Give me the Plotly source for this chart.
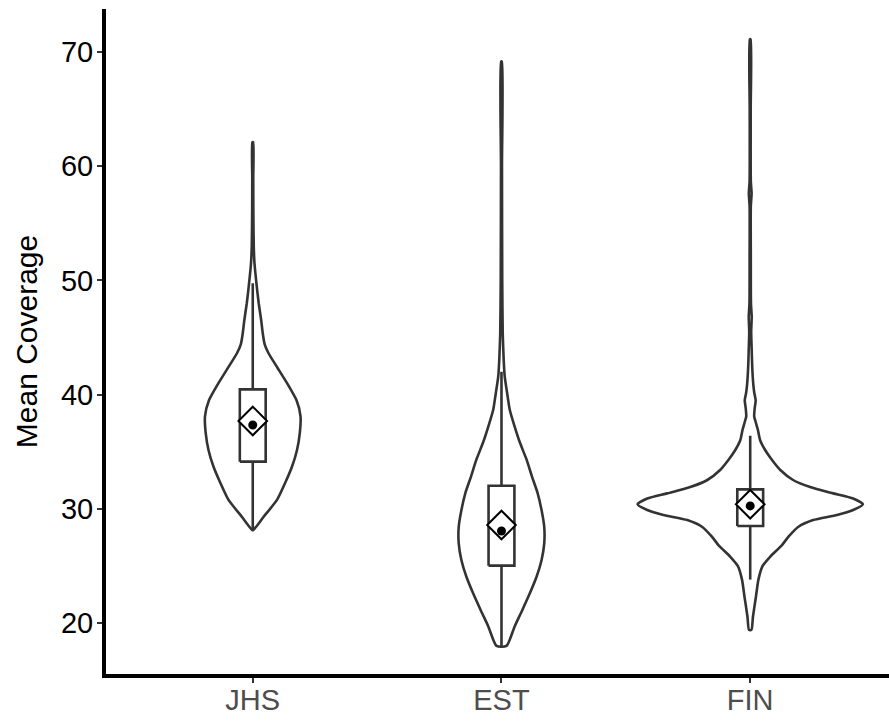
import plotly.graph_objects as go

# Groups along the x axis
groups = ["JHS", "EST", "FIN"]

# Violin outlines: coverage values and the half-width of the density at each value
jhs_y = [28.14, 28.6, 29.3, 30.8, 32.3, 33.7, 35.15, 36.6, 38.1, 39.5, 41.0, 42.4, 43.6,
         44.4, 45.4, 46.5, 48.0, 49.5, 51.5, 53.0, 56.0, 59.0, 62.1]
jhs_w = [0.002, 0.020, 0.044, 0.098, 0.131, 0.158, 0.178, 0.189, 0.192, 0.176, 0.138, 0.098, 0.064,
         0.048, 0.040, 0.034, 0.024, 0.016, 0.007, 0.004, 0.0024, 0.002, 0.0016]

est_y = [17.99, 19.7, 21.1, 22.6, 24.05, 25.5, 27.0, 28.4, 29.9, 31.4, 32.8, 34.3, 35.8,
         37.2, 38.7, 40.1, 41.6, 43.0, 45.4, 50.0, 60.0, 69.15]
est_w = [0.020, 0.053, 0.083, 0.114, 0.141, 0.161, 0.172, 0.172, 0.161, 0.145, 0.123, 0.101, 0.074,
         0.053, 0.033, 0.023, 0.013, 0.009, 0.005, 0.003, 0.002, 0.0016]

fin_y = [19.4, 20.55, 22.3, 23.8, 25.0, 25.8, 26.8, 27.56, 28.43, 29.02, 29.46, 29.9, 30.4,
         30.9, 31.35, 31.9, 32.5, 33.4, 34.3, 35.15, 36.0, 36.9, 37.6, 38.1, 38.8, 39.5,
         40.2, 41.0, 42.5, 43.9, 45.5, 46.8, 48.0, 52.0, 56.5, 57.6, 58.7, 65.0, 71.1]
fin_w = [0.005, 0.011, 0.023, 0.033, 0.050, 0.080, 0.127, 0.154, 0.194, 0.253, 0.349, 0.414, 0.453,
         0.414, 0.334, 0.241, 0.174, 0.121, 0.087, 0.060, 0.040, 0.031, 0.022, 0.016, 0.018, 0.022,
         0.016, 0.012, 0.008, 0.006, 0.004, 0.006, 0.003, 0.0024, 0.0024, 0.0056, 0.0024, 0.002, 0.0016]

violin_y = [jhs_y, est_y, fin_y]
violin_w = [jhs_w, est_w, fin_w]

# Box summaries
q1 = [34.13, 25.02, 28.5]
q3 = [40.46, 32.02, 31.7]
whisker_lo = [28.14, 17.99, 23.8]
whisker_hi = [49.75, 42.0, 36.4]
means = [37.69, 28.58, 30.4]
medians = [37.34, 28.06, 30.25]

BOX_HALF = 0.052
LINE = "#333333"

fig = go.Figure()

for i, g in enumerate(groups):
    ys, ws = violin_y[i], violin_w[i]
    xs = [i + w for w in ws] + [i - w for w in reversed(ws)]
    yy = list(ys) + list(reversed(ys))
    xs.append(xs[0])
    yy.append(yy[0])
    fig.add_trace(go.Scatter(
        x=xs, y=yy, mode="lines", line=dict(color=LINE, width=2.6, shape="spline", smoothing=0.6),
        fill="toself", fillcolor="white", hoverinfo="skip", showlegend=False))

for i, g in enumerate(groups):
    # whiskers
    fig.add_trace(go.Scatter(
        x=[i, i, None, i, i], y=[whisker_lo[i], q1[i], None, q3[i], whisker_hi[i]],
        mode="lines", line=dict(color=LINE, width=2.6), hoverinfo="skip", showlegend=False))
    # box
    fig.add_trace(go.Scatter(
        x=[i - BOX_HALF, i + BOX_HALF, i + BOX_HALF, i - BOX_HALF, i - BOX_HALF],
        y=[q1[i], q1[i], q3[i], q3[i], q1[i]],
        mode="lines", line=dict(color=LINE, width=2.6), fill="toself", fillcolor="white",
        hoverinfo="skip", showlegend=False))

# mean (diamond) and median (dot)
fig.add_trace(go.Scatter(
    x=list(range(len(groups))), y=means, mode="markers",
    marker=dict(symbol="diamond", size=22, color="white", line=dict(color="black", width=2)),
    showlegend=False, name="mean"))
fig.add_trace(go.Scatter(
    x=list(range(len(groups))), y=medians, mode="markers",
    marker=dict(symbol="circle", size=9, color="black"),
    showlegend=False, name="median"))

fig.update_layout(
    width=889, height=721,
    margin=dict(l=106, r=0, t=9, b=47),
    plot_bgcolor="white", paper_bgcolor="white",
    font=dict(family="Liberation Sans, Arial, Helvetica, sans-serif"),
    xaxis=dict(
        range=[-0.590, 2.558], tickmode="array", tickvals=[0, 1, 2], ticktext=groups,
        showgrid=False, zeroline=False, showline=True, linecolor="black", linewidth=4,
        ticks="outside", ticklen=5, tickwidth=1.5, tickcolor=LINE, automargin=False,
        ticklabelstandoff=-8,
        tickfont=dict(size=29, color="#4D4D4D")),
    yaxis=dict(
        range=[15.534, 73.765], tickmode="array", tickvals=[20, 30, 40, 50, 60, 70],
        showgrid=False, zeroline=False, showline=True, linecolor="black", linewidth=4,
        ticks="outside", ticklen=5, tickwidth=1.5, tickcolor=LINE, automargin=False,
        ticklabelstandoff=-2,
        tickfont=dict(size=29, color="black"),
        title=dict(text="Mean Coverage", font=dict(size=30, color="black"), standoff=15)),
)

fig.write_html("out.html")
